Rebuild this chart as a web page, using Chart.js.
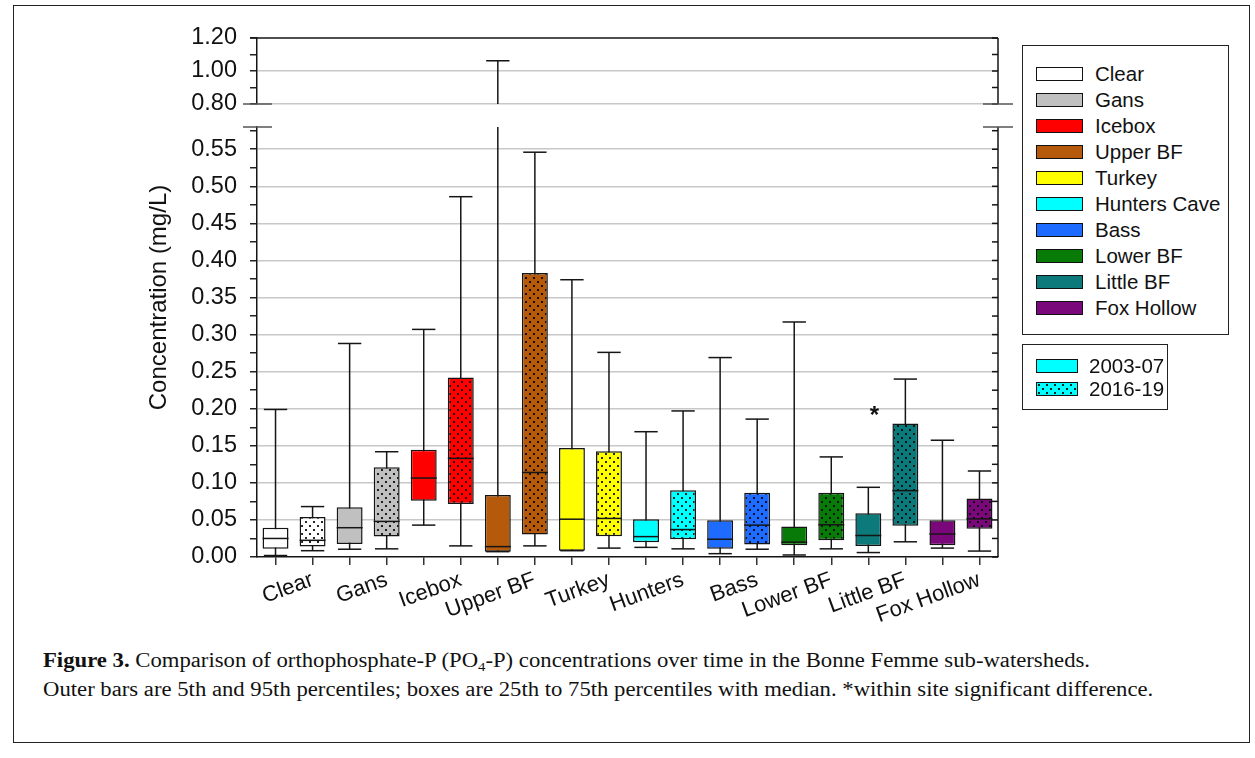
<!DOCTYPE html>
<html>
<head>
<meta charset="utf-8">
<title>Orthophosphate-P concentrations</title>
<script src="https://cdn.jsdelivr.net/npm/chart.js@4.4.1/dist/chart.umd.min.js"></script>
<style>
  html, body { margin: 0; padding: 0; background: #fff; }
  #figure { position: relative; width: 1255px; height: 758px; overflow: hidden; }
  #frame { position: absolute; left: 13px; top: 5px; width: 1237px; height: 738px; border: 1px solid #222; box-sizing: border-box; }
  #chart { position: absolute; left: 0; top: 0; }
  .legend { position: absolute; border: 1.5px solid #222; box-sizing: border-box; background: #fff;
            font: 20.5px 'Liberation Sans', Arial, sans-serif; color: #111; }
  .legend .row { position: absolute; left: 13px; height: 20px; display: flex; align-items: center; white-space: nowrap; }
  .legend .sw { height: 14px; border: 1.5px solid #111; box-sizing: border-box; }
  #caption { position: absolute; left: 43px; top: 646px; font: 20px 'Liberation Serif', 'Times New Roman', serif;
             line-height: 29px; color: #111; white-space: nowrap; transform: scaleX(1.135); transform-origin: 0 0; }
  #caption sub { font-size: 13px; line-height: 0; vertical-align: -4px; }
</style>
</head>
<body>
<div id="figure">
  <div id="frame"></div>
  <canvas id="chart" width="1255" height="630"></canvas>
  <div class="legend" id="siteLegend" style="left:1022px; top:45px; width:207px; height:290px;"></div>
  <div class="legend" id="periodLegend" style="left:1022px; top:344px; width:146px; height:66px;"></div>
  <div id="caption">
    <b>Figure 3.</b> Comparison of orthophosphate-P (PO<sub>4</sub>-P) concentrations over time in the Bonne Femme sub-watersheds.<br>
    Outer bars are 5th and 95th percentiles; boxes are 25th to 75th percentiles with median. *within site significant difference.
  </div>
</div>
<script>
const sites = ['Clear', 'Gans', 'Icebox', 'Upper BF', 'Turkey', 'Hunters', 'Bass', 'Lower BF', 'Little BF', 'Fox Hollow'];
const siteNames = ['Clear', 'Gans', 'Icebox', 'Upper BF', 'Turkey', 'Hunters Cave', 'Bass', 'Lower BF', 'Little BF', 'Fox Hollow'];
const siteColors = ['#ffffff', '#c0c0c0', '#ff0000', '#b45a0a', '#ffff00', '#00ffff', '#1e6cff', '#077a07', '#0c7a7a', '#7a087a'];
const periods = ['2003-07', '2016-19'];

// one entry per box: each site 2003-07 then 2016-19 (mg/L)
const p5     = [0.002, 0.0085, 0.0105, 0.011, 0.043, 0.015, 0.0072, 0.015, 0.0085, 0.012, 0.013, 0.011, 0.0045, 0.0105, 0.0027, 0.011, 0.006, 0.0205, 0.012, 0.008];
const q1     = [0.011, 0.014, 0.0175, 0.0275, 0.076, 0.0715, 0.0072, 0.0305, 0.0085, 0.028, 0.020, 0.024, 0.011, 0.017, 0.0157, 0.0225, 0.015, 0.042, 0.0157, 0.038];
const median = [0.025, 0.0225, 0.0395, 0.048, 0.1065, 0.133, 0.014, 0.114, 0.051, 0.052, 0.0275, 0.037, 0.024, 0.043, 0.020, 0.0435, 0.029, 0.0895, 0.031, 0.0515];
const q3     = [0.0395, 0.054, 0.067, 0.121, 0.1445, 0.242, 0.0835, 0.383, 0.147, 0.1425, 0.051, 0.090, 0.0495, 0.0865, 0.041, 0.0865, 0.059, 0.180, 0.0495, 0.079];
const p95    = [0.199, 0.068, 0.288, 0.142, 0.307, 0.486, 1.062, 0.546, 0.374, 0.276, 0.169, 0.197, 0.269, 0.186, 0.317, 0.135, 0.094, 0.240, 0.1575, 0.116];

// within-site significant difference marker
const starSites = ['Little BF'];
const starLevels = [0.196];

const lowTicks = [0, 0.58];     // lower panel range
const highTicks = [0.8, 1.2];   // upper panel range

const boxLabels = sites.flatMap(s => periods.map(p => s + ' ' + p));
const FONT = "'Liberation Sans', Arial, sans-serif";

function dotTile(color) {
  const c = document.createElement('canvas');
  c.width = 8; c.height = 8;
  const g = c.getContext('2d');
  g.fillStyle = color;
  g.fillRect(0, 0, 8, 8);
  g.fillStyle = 'rgba(0,0,0,0.85)';
  g.fillRect(1, 1, 2, 2);
  g.fillRect(5, 5, 2, 2);
  return c;
}

const canvas = document.getElementById('chart');
const fills = [];
sites.forEach((s, i) => {
  fills.push(siteColors[i]);
  fills.push(canvas.getContext('2d').createPattern(dotTile(siteColors[i]), 'repeat'));
});

// legends
const siteLegend = document.getElementById('siteLegend');
siteNames.forEach((name, i) => {
  const row = document.createElement('div');
  row.className = 'row';
  row.style.top = (18 + i * 26) + 'px';
  row.innerHTML = '<span class="sw" style="width:47px;margin-right:12px;background:' + siteColors[i] + '"></span>' + name;
  siteLegend.appendChild(row);
});
const periodLegend = document.getElementById('periodLegend');
periods.forEach((name, i) => {
  const row = document.createElement('div');
  row.className = 'row';
  row.style.top = (11 + i * 23) + 'px';
  const bg = i === 0 ? siteColors[5] : 'url(' + dotTile(siteColors[5]).toDataURL() + ')';
  row.innerHTML = '<span class="sw" style="width:42px;margin-right:11px;background:' + bg + '"></span>' + name;
  periodLegend.appendChild(row);
});

const isMajor = (v, step) => Math.abs(v / step - Math.round(v / step)) < 1e-6;

function line(ctx, x1, y1, x2, y2) {
  ctx.beginPath();
  ctx.moveTo(x1, y1);
  ctx.lineTo(x2, y2);
  ctx.stroke();
}

const boxPlot = {
  id: 'boxPlot',
  beforeDatasetsDraw(chart) {
    const { ctx } = chart;
    const yLow = chart.scales.y, yHigh = chart.scales.yTop;
    const bars = chart.getDatasetMeta(0).data;
    ctx.save();
    ctx.strokeStyle = '#151515';
    ctx.lineWidth = 1.5;
    bars.forEach((bar, i) => {
      const x = bar.x, half = bar.width * 0.45;
      const top = Math.min(p95[i], yLow.max);
      line(ctx, x, yLow.getPixelForValue(p5[i]), x, yLow.getPixelForValue(top));
      line(ctx, x - half, yLow.getPixelForValue(p5[i]), x + half, yLow.getPixelForValue(p5[i]));
      if (p95[i] <= yLow.max) {
        line(ctx, x - half, yLow.getPixelForValue(p95[i]), x + half, yLow.getPixelForValue(p95[i]));
      } else if (p95[i] >= yHigh.min) {
        line(ctx, x, yHigh.getPixelForValue(yHigh.min), x, yHigh.getPixelForValue(p95[i]));
        line(ctx, x - half, yHigh.getPixelForValue(p95[i]), x + half, yHigh.getPixelForValue(p95[i]));
      }
    });
    ctx.restore();
  },
  afterDatasetsDraw(chart) {
    const { ctx, chartArea } = chart;
    const yLow = chart.scales.y, yHigh = chart.scales.yTop;
    const bars = chart.getDatasetMeta(0).data;
    ctx.save();
    ctx.strokeStyle = '#151515';
    ctx.lineWidth = 1.5;
    // medians
    bars.forEach((bar, i) => {
      const y = yLow.getPixelForValue(median[i]);
      line(ctx, bar.x - bar.width / 2, y, bar.x + bar.width / 2, y);
    });
    // top border and right axis with inward ticks
    const L = chartArea.left, R = chartArea.right;
    line(ctx, L - 7, yHigh.top, R, yHigh.top);
    line(ctx, R, yHigh.top, R, yHigh.bottom);
    line(ctx, R, yLow.top, R, yLow.bottom);
    [yLow, yHigh].forEach(sc => {
      sc.ticks.forEach(t => {
        const y = sc.getPixelForValue(t.value);
        line(ctx, R - 6, y, R, y);
      });
    });
    // axis break marks
    ctx.strokeStyle = '#555';
    [yHigh.bottom, yLow.top].forEach(y => {
      line(ctx, L - 14, y, L + 15, y);
      line(ctx, R - 15, y, R + 15, y);
    });
    // significance star
    ctx.fillStyle = '#111';
    ctx.font = 'bold 24px ' + FONT;
    ctx.textAlign = 'center';
    ctx.textBaseline = 'middle';
    starSites.forEach((s, k) => {
      const bar = bars[sites.indexOf(s) * 2];
      ctx.fillText('*', bar.x + 6, yLow.getPixelForValue(starLevels[k]) + 5);
    });
    // y axis title
    ctx.font = '24px ' + FONT;
    ctx.translate(159, (chartArea.top + chartArea.bottom) / 2);
    ctx.rotate(-Math.PI / 2);
    ctx.fillText('Concentration (mg/L)', 0, 0);
    ctx.restore();
  }
};

const yTickColor = '#222';
const gridGray = '#c8c8c8';

new Chart(canvas, {
  type: 'bar',
  data: {
    labels: boxLabels,
    datasets: [{
      data: q1.map((v, i) => [v, q3[i]]),
      backgroundColor: fills,
      borderColor: '#151515',
      borderWidth: 1.5,
      borderSkipped: false,
      barPercentage: 0.7,
      categoryPercentage: 1,
      xAxisID: 'x',
      yAxisID: 'y'
    }]
  },
  options: {
    responsive: false,
    animation: false,
    layout: { padding: { top: 38, right: 257, bottom: 0, left: 0 } },
    plugins: { legend: { display: false }, tooltip: { enabled: false } },
    scales: {
      x: {
        grid: { offset: false, drawOnChartArea: false, tickLength: 8, color: '#333', lineWidth: 1.5 },
        border: { color: '#151515', width: 1.5 },
        ticks: {
          autoSkip: false, minRotation: 20, maxRotation: 20, padding: 2,
          color: '#111', font: { family: FONT, size: 22 },
          callback: (v, i) => i % 2 === 1 ? sites[(i - 1) / 2] : ''
        },
        afterFit: s => { s.height = 73; }
      },
      y: {
        type: 'linear', position: 'left', stack: 'left', stackWeight: 430,
        min: lowTicks[0], max: lowTicks[1],
        border: { color: '#151515', width: 1.5 },
        grid: {
          tickLength: 7,
          color: c => isMajor(c.tick.value, 0.05) && c.tick.value > 0 ? gridGray : 'rgba(0,0,0,0)',
          tickColor: yTickColor,
          lineWidth: 1.5
        },
        ticks: {
          stepSize: 0.025, includeBounds: false, autoSkip: false, padding: 13,
          color: '#111', font: { family: FONT, size: 23.5 },
          callback: v => isMajor(v, 0.05) ? v.toFixed(2) : ''
        },
        afterFit: s => { s.width = 257; }
      },
      yGap: {
        type: 'linear', position: 'left', stack: 'left', stackWeight: 23,
        border: { display: false },
        grid: { display: false, drawTicks: false },
        ticks: { display: false },
        afterFit: s => { s.width = 257; }
      },
      yTop: {
        type: 'linear', position: 'left', stack: 'left', stackWeight: 66,
        min: highTicks[0], max: highTicks[1],
        border: { color: '#151515', width: 1.5 },
        grid: {
          tickLength: 7,
          color: c => isMajor(c.tick.value, 0.2) && c.tick.value < 1.19 ? gridGray : 'rgba(0,0,0,0)',
          tickColor: yTickColor,
          lineWidth: 1.5
        },
        ticks: {
          stepSize: 0.1, autoSkip: false, padding: 13,
          color: '#111', font: { family: FONT, size: 23.5 },
          callback: v => isMajor(v, 0.2) ? v.toFixed(2) : ''
        },
        afterFit: s => { s.width = 257; }
      }
    }
  },
  plugins: [boxPlot]
});
</script>
</body>
</html>
